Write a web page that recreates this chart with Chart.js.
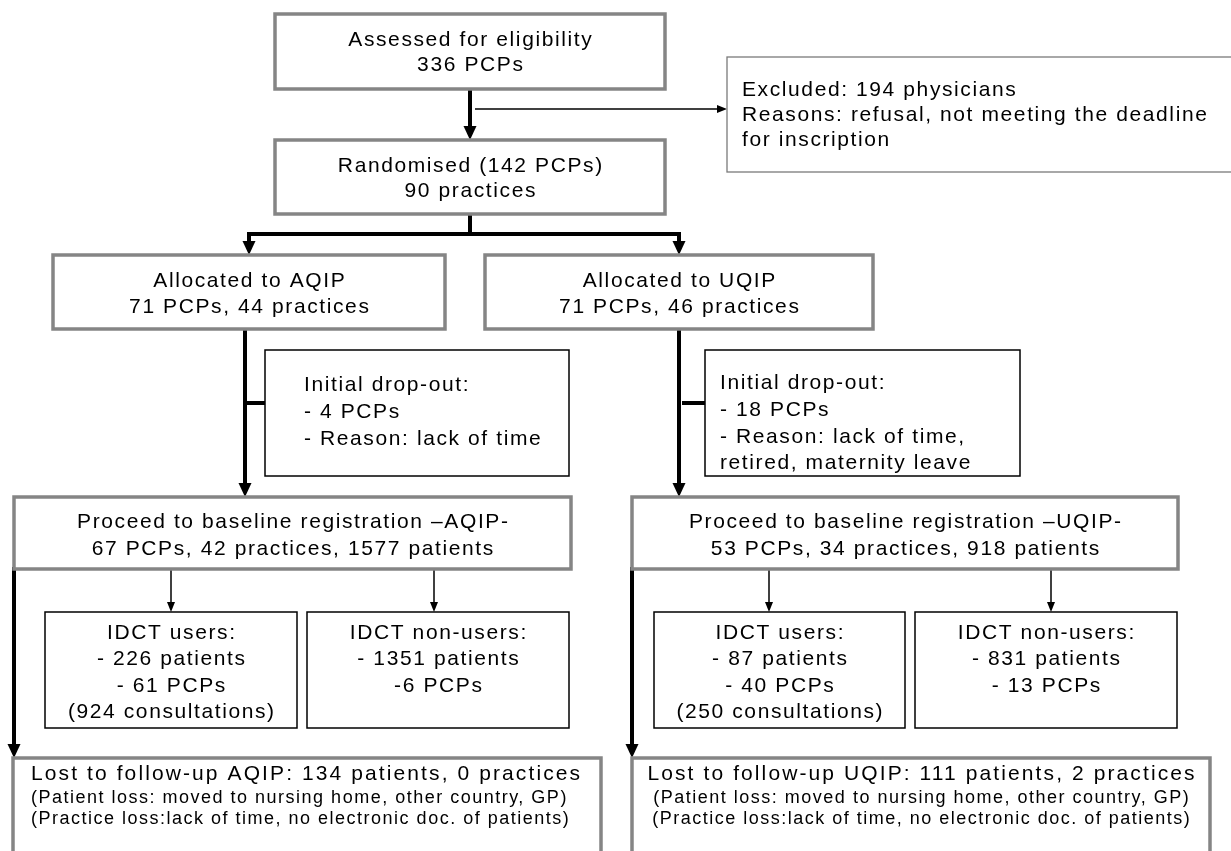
<!DOCTYPE html>
<html>
<head>
<meta charset="utf-8">
<title>Study flow diagram</title>
<script src="https://cdn.jsdelivr.net/npm/chart.js@4.4.1/dist/chart.umd.min.js"></script>
<style>
  html, body { margin: 0; padding: 0; background: #ffffff; }
  #wrap { width: 1231px; height: 851px; position: relative; }
</style>
</head>
<body>
<div id="wrap"><canvas id="flowCanvas"></canvas></div>
<script>
// Box texts
const assessedLines = ['Assessed for eligibility', '336 PCPs'];
const excludedLines = ['Excluded: 194 physicians', 'Reasons: refusal, not meeting the deadline', 'for inscription'];
const randomisedLines = ['Randomised (142 PCPs)', '90 practices'];
const allocAqipLines = ['Allocated to AQIP', '71 PCPs, 44 practices'];
const allocUqipLines = ['Allocated to UQIP', '71 PCPs, 46 practices'];
const dropAqipLines = ['Initial drop-out:', '- 4 PCPs', '- Reason: lack of time'];
const dropUqipLines = ['Initial drop-out:', '- 18 PCPs', '- Reason: lack of time,', 'retired, maternity leave'];
const baseAqipLines = ['Proceed to baseline registration \u2013AQIP-', '67 PCPs, 42 practices, 1577 patients'];
const baseUqipLines = ['Proceed to baseline registration \u2013UQIP-', '53 PCPs, 34 practices, 918 patients'];
const usersAqipLines = ['IDCT users:', '- 226 patients', '- 61 PCPs', '(924 consultations)'];
const nonUsersAqipLines = ['IDCT non-users:', '- 1351 patients', '-6 PCPs'];
const usersUqipLines = ['IDCT users:', '- 87 patients', '- 40 PCPs', '(250 consultations)'];
const nonUsersUqipLines = ['IDCT non-users:', '- 831 patients', '- 13 PCPs'];
const lostAqipLines = ['Lost to follow-up AQIP: 134 patients, 0 practices',
  '(Patient loss: moved to nursing home, other country, GP)',
  '(Practice loss:lack of time, no electronic doc. of patients)'];
const lostUqipLines = ['Lost to follow-up UQIP: 111 patients, 2 practices',
  '(Patient loss: moved to nursing home, other country, GP)',
  '(Practice loss:lack of time, no electronic doc. of patients)'];

// Layout (in the 1231 x 851 value space of the scales)
const BIG = { size: 21, spacing: 1.6 };
const HEAD = { size: 21, spacing: 2.1 };
const SMALL = { size: 18, spacing: 1.5 };

const boxes = [
  { r: [275, 14, 665, 89], kind: 'grey', lines: assessedLines, ys: [40, 65] },
  { r: [727, 57, 1240, 172], kind: 'thinGrey', lines: excludedLines, ys: [90, 115, 140], left: 742 },
  { r: [275, 140, 665, 214], kind: 'grey', lines: randomisedLines, ys: [166, 191] },
  { r: [53, 255, 445, 329], kind: 'grey', lines: allocAqipLines, ys: [281, 307] },
  { r: [485, 255, 873, 329], kind: 'grey', lines: allocUqipLines, ys: [281, 307] },
  { r: [265, 350, 569, 476], kind: 'black', lines: dropAqipLines, ys: [385, 412, 439], left: 304 },
  { r: [705, 350, 1020, 476], kind: 'black', lines: dropUqipLines, ys: [383, 410, 437, 463], left: 720 },
  { r: [14, 497, 571, 569], kind: 'grey', lines: baseAqipLines, ys: [522, 549] },
  { r: [632, 497, 1178, 569], kind: 'grey', lines: baseUqipLines, ys: [522, 549] },
  { r: [45, 612, 297, 728], kind: 'black', lines: usersAqipLines, ys: [633, 659, 686, 712] },
  { r: [307, 612, 569, 728], kind: 'black', lines: nonUsersAqipLines, ys: [633, 659, 686] },
  { r: [654, 612, 905, 728], kind: 'black', lines: usersUqipLines, ys: [633, 659, 686, 712] },
  { r: [915, 612, 1177, 728], kind: 'black', lines: nonUsersUqipLines, ys: [633, 659, 686] },
  { r: [13, 758, 601, 900], kind: 'grey', lines: lostAqipLines, ys: [774, 798, 819], left: 31, small: true },
  { r: [632, 758, 1210, 900], kind: 'grey', lines: lostUqipLines, ys: [774, 798, 819], small: true }
];

// connectors: [x1, y1, x2, y2, thick, arrowhead]
const links = [
  [470, 89, 470, 140, true, true],
  [475, 109, 727, 109, false, true],
  [470, 214, 470, 234, true, false],
  [249, 234, 679, 234, true, false],
  [249, 234, 249, 255, true, true],
  [679, 234, 679, 255, true, true],
  [245, 329, 245, 497, true, true],
  [245, 403, 265, 403, true, false],
  [679, 329, 679, 497, true, true],
  [684, 403, 705, 403, true, false],
  [171, 569, 171, 612, false, true],
  [434, 569, 434, 612, false, true],
  [769, 569, 769, 612, false, true],
  [1051, 569, 1051, 612, false, true],
  [14, 569, 14, 758, true, true],
  [632, 569, 632, 758, true, true]
];

const boxStyles = {
  grey: { color: '#858585', width: 3.5 },
  thinGrey: { color: '#7a7a7a', width: 1.3 },
  black: { color: '#000000', width: 1.5 }
};

function setFont(ctx, f) {
  ctx.font = f.size + 'px "Liberation Sans", Arial, sans-serif';
  ctx.letterSpacing = f.spacing + 'px';
}

const flowPlugin = {
  id: 'flowPlugin',
  afterDraw(chart) {
    const ctx = chart.ctx;
    const sx = chart.scales.x;
    const sy = chart.scales.y;
    const X = v => sx.getPixelForValue(v);
    const Y = v => sy.getPixelForValue(v);

    ctx.save();
    // connectors and arrows
    links.forEach(l => {
      const [x1, y1, x2, y2, thick, head] = l;
      const px1 = X(x1), py1 = Y(y1), px2 = X(x2), py2 = Y(y2);
      const hl = thick ? 14 : 10;
      const hw = thick ? 6.5 : 4;
      const len = Math.hypot(px2 - px1, py2 - py1);
      const ux = (px2 - px1) / len, uy = (py2 - py1) / len;
      const ex = head ? px2 - ux * hl : px2;
      const ey = head ? py2 - uy * hl : py2;
      ctx.strokeStyle = '#000';
      ctx.lineWidth = thick ? 4 : 1.5;
      ctx.lineCap = 'butt';
      ctx.beginPath();
      ctx.moveTo(px1 - (thick ? ux * 2 : 0), py1 - (thick ? uy * 2 : 0));
      ctx.lineTo(ex + ux, ey + uy);
      ctx.stroke();
      if (head) {
        ctx.fillStyle = '#000';
        ctx.beginPath();
        ctx.moveTo(px2, py2);
        ctx.lineTo(ex - uy * hw, ey + ux * hw);
        ctx.lineTo(ex + uy * hw, ey - ux * hw);
        ctx.closePath();
        ctx.fill();
      }
    });

    // boxes and their text
    boxes.forEach(b => {
      const st = boxStyles[b.kind];
      const x1 = X(b.r[0]), y1 = Y(b.r[1]), x2 = X(b.r[2]), y2 = Y(b.r[3]);
      ctx.fillStyle = '#ffffff';
      ctx.fillRect(x1, y1, x2 - x1, y2 - y1);
      ctx.strokeStyle = st.color;
      ctx.lineWidth = st.width;
      ctx.strokeRect(x1, y1, x2 - x1, y2 - y1);

      ctx.fillStyle = '#000000';
      ctx.textBaseline = 'middle';
      b.lines.forEach((txt, i) => {
        let f = BIG;
        if (b.small) f = i > 0 ? SMALL : HEAD;
        setFont(ctx, f);
        const ty = Y(b.ys[i]);
        if (b.left !== undefined) {
          ctx.textAlign = 'left';
          ctx.fillText(txt, X(b.left), ty);
        } else {
          ctx.textAlign = 'center';
          ctx.fillText(txt, (x1 + x2) / 2 + f.spacing / 2, ty);
        }
      });
    });
    ctx.restore();
  }
};

new Chart(document.getElementById('flowCanvas'), {
  type: 'scatter',
  data: { datasets: [{ data: [], pointRadius: 0 }] },
  options: {
    responsive: true,
    maintainAspectRatio: false,
    animation: false,
    layout: { padding: 0 },
    plugins: { legend: { display: false }, tooltip: { enabled: false } },
    scales: {
      x: { type: 'linear', min: 0, max: 1231, display: false },
      y: { type: 'linear', min: 0, max: 851, reverse: true, display: false }
    }
  },
  plugins: [flowPlugin]
});
</script>
</body>
</html>
